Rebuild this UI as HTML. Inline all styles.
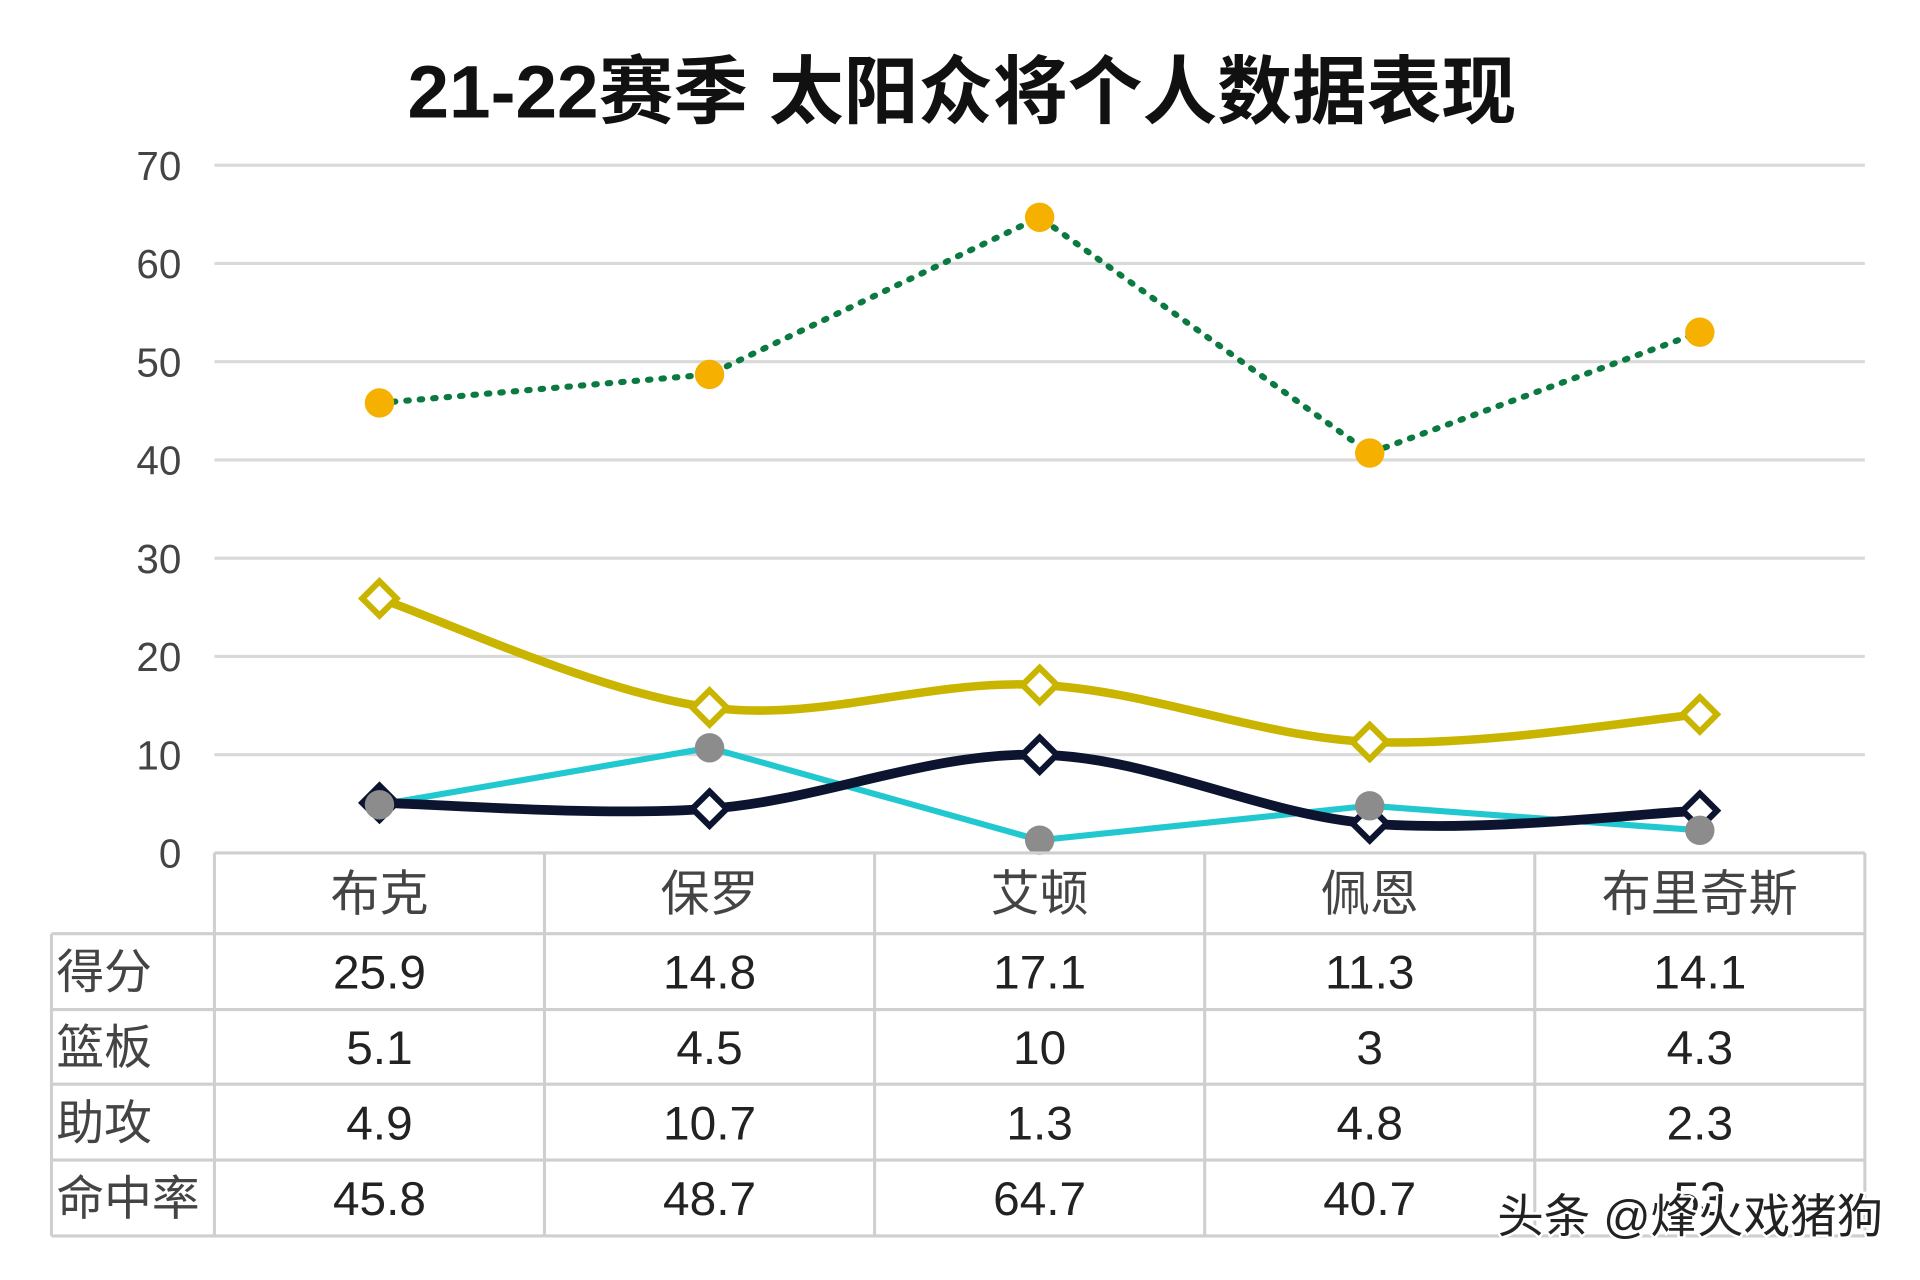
<!DOCTYPE html>
<html><head><meta charset="utf-8"><style>
html,body{margin:0;padding:0;background:#fff;width:1920px;height:1280px;overflow:hidden}
svg{display:block}
text{font-family:"Liberation Sans","Noto Sans CJK SC",sans-serif}
</style></head><body>
<svg id="chart" width="1920" height="1280" viewBox="0 0 1567 1046" preserveAspectRatio="none" xmlns="http://www.w3.org/2000/svg">
<text x="785" y="96" text-anchor="middle" font-size="61" font-weight="bold" fill="#111">21-22赛季 太阳众将个人数据表现</text>
<g id="grid"></g><g id="series"></g><g id="table"></g>
<text x="1537" y="1007" text-anchor="end" font-size="38" fill="#222" stroke="#fff" stroke-width="4" paint-order="stroke">头条 @烽火戏猪狗</text>
</svg>
<script>
const categories=["布克","保罗","艾顿","佩恩","布里奇斯"];
const seriesNames=["得分","篮板","助攻","命中率"];
const points=[25.9,14.8,17.1,11.3,14.1];
const rebounds=[5.1,4.5,10,3,4.3];
const assists=[4.9,10.7,1.3,4.8,2.3];
const fgPct=[45.8,48.7,64.7,40.7,53];
const yTicks=[0,10,20,30,40,50,60,70];
const NS="http://www.w3.org/2000/svg";
const x0=175,x1=1522,yTop=135,yBot=697,yMax=70;
const cw=(x1-x0)/categories.length;
const xs=i=>x0+cw*(i+0.5);
const ys=v=>yBot-(v/yMax)*(yBot-yTop);
function mk(tag,attrs,parent){const e=document.createElementNS(NS,tag);for(const k in attrs)e.setAttribute(k,attrs[k]);parent.appendChild(e);return e;}
const grid=document.getElementById('grid'),ser=document.getElementById('series'),tbl=document.getElementById('table');
yTicks.forEach(t=>{
 if(t>0){const l=mk('line',{x1:x0,x2:x1,y1:ys(t),y2:ys(t),stroke:'#d9d9d9','stroke-width':2.5},grid);
 
 }
 const tx=mk('text',{x:148,y:ys(t)+12,'text-anchor':'end','font-size':33,fill:'#444'},grid);tx.textContent=t;
 
 
});
function smooth(pts){let d=`M${pts[0][0]},${pts[0][1]}`;for(let i=0;i<pts.length-1;i++){const p0=pts[i-1]||pts[i],p1=pts[i],p2=pts[i+1],p3=pts[i+2]||p2;const t=0.17;d+=` C${p1[0]+(p2[0]-p0[0])*t},${p1[1]+(p2[1]-p0[1])*t} ${p2[0]-(p3[0]-p1[0])*t},${p2[1]-(p3[1]-p1[1])*t} ${p2[0]},${p2[1]}`;}return d;}
function poly(pts){return 'M'+pts.map(p=>p.join(',')).join(' L');}
function line(vals,color,w,isSmooth,dash,name){const pts=vals.map((v,i)=>[xs(i),ys(v)]);const a={d:isSmooth?smooth(pts):poly(pts),fill:'none',stroke:color,'stroke-width':w,'stroke-linecap':'round'};if(dash)a['stroke-dasharray']=dash;const p=mk('path',a,ser);
 
 return pts;}
function diamonds(pts,color,name){pts.forEach((p,i)=>{const s=14;const e=mk('polygon',{points:`${p[0]},${p[1]-s} ${p[0]+s},${p[1]} ${p[0]},${p[1]+s} ${p[0]-s},${p[1]}`,fill:'#fff',stroke:color,'stroke-width':5},ser);
 
 });}
function circles(pts,color,name){pts.forEach((p,i)=>{const e=mk('circle',{cx:p[0],cy:p[1],r:12,fill:color},ser);
 
 });}
const pA=line(assists,'#22c8d0',5,false,null,'assists-line');
const pR=line(rebounds,'#0c1430',8,true,null,'rebounds-line');
const pP=line(points,'#c9b500',7,true,null,'points-line');
const pF=line(fgPct,'#0b7a40',5,false,'2 9','fg-pct-line');
diamonds(pR,'#0c1430','rebounds');diamonds(pP,'#c9b500','points');
circles(pA,'#8c8c8c','assists');circles(pF,'#f5b000','fg-pct');
const rowsY=[697,763,825,886,948,1010];const lx=42;
const gc='#cfcfcf';
function L(a,b,c,d){mk('line',{x1:a,y1:b,x2:c,y2:d,stroke:gc,'stroke-width':2.5},tbl);}
L(x0,697,x1,697);
for(let r=1;r<rowsY.length;r++)L(lx,rowsY[r],x1,rowsY[r]);
L(lx,763,lx,1010);
for(let i=0;i<=categories.length;i++){L(x0+cw*i,697,x0+cw*i,1010);}
categories.forEach((c,i)=>{const t=mk('text',{x:xs(i),y:744,'text-anchor':'middle','font-size':40,fill:'#444'},tbl);t.textContent=c;
 
 });
const allVals=[points,rebounds,assists,fgPct];
seriesNames.forEach((n,r)=>{const y=(rowsY[r+1]+rowsY[r+2])/2+14;const t=mk('text',{x:46,y:y,'font-size':39,fill:'#444'},tbl);t.textContent=n;
 
 
 allVals[r].forEach((v,i)=>{const c=mk('text',{x:xs(i),y:y,'text-anchor':'middle','font-size':39,fill:'#222'},tbl);c.textContent=v;
 
 });});
</script>
</body></html>
